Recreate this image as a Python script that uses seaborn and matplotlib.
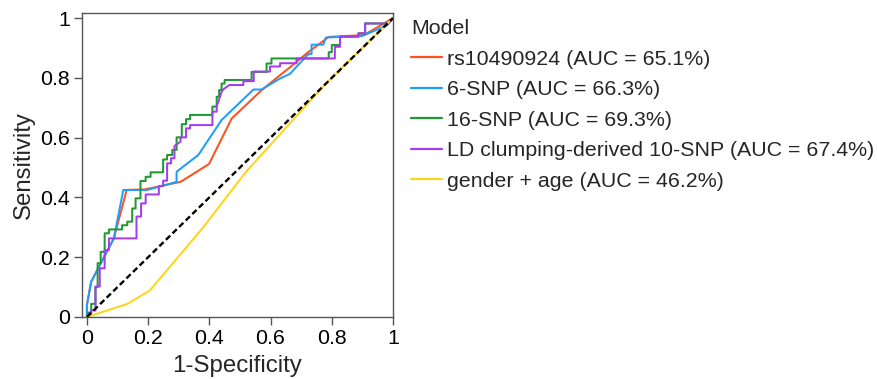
import numpy as np
import pandas as pd
import matplotlib
matplotlib.use("Agg")
import matplotlib.pyplot as plt
import seaborn as sns

# ---------------- data ----------------
models = ["rs10490924", "6-SNP", "16-SNP", "LD clumping-derived 10-SNP", "gender + age"]
auc = [65.1, 66.3, 69.3, 67.4, 46.2]
colors = ["#FF5020", "#1E9EFA", "#1F9A2E", "#A33DEE", "#FFD51A"]

fpr_rs = [0, 0, 0.014, 0.088, 0.13, 0.19, 0.306, 0.399, 0.473, 0.571, 0.631, 0.663, 0.718, 0.79, 0.905, 1]
tpr_rs = [0, 0.04, 0.118, 0.263, 0.425, 0.427, 0.452, 0.512, 0.664, 0.759, 0.809, 0.835, 0.882, 0.937, 0.943, 1]

fpr_6 = [0, 0, 0.014, 0.088, 0.119, 0.197, 0.293, 0.293, 0.364, 0.44, 0.544, 0.571, 0.631, 0.663, 0.718,
         0.725, 0.734, 0.734, 0.772, 0.781, 0.898, 0.98, 1]
tpr_6 = [0, 0.04, 0.118, 0.263, 0.425, 0.425, 0.452, 0.486, 0.542, 0.659, 0.761, 0.761, 0.798, 0.813, 0.874,
         0.88, 0.88, 0.911, 0.911, 0.935, 0.94, 0.975, 1]

fpr_16 = [0, 0.005, 0.005, 0.014, 0.014, 0.028, 0.028, 0.035, 0.035, 0.045, 0.045, 0.058, 0.058, 0.072, 0.072,
          0.115, 0.115, 0.132, 0.132, 0.148, 0.148, 0.159, 0.159, 0.175, 0.175, 0.192, 0.192, 0.208, 0.208,
          0.249, 0.249, 0.262, 0.262, 0.279, 0.279, 0.293, 0.293, 0.31, 0.31, 0.324, 0.324, 0.337, 0.337,
          0.41, 0.41, 0.424, 0.424, 0.432, 0.432, 0.44, 0.44, 0.45, 0.45, 0.538, 0.538, 0.587, 0.587,
          0.603, 0.603, 0.79, 0.79, 0.8, 0.8, 0.827, 0.827, 0.887, 0.887, 0.909, 0.909, 0.985, 1]
tpr_16 = [0, 0, 0.015, 0.015, 0.044, 0.044, 0.10, 0.10, 0.18, 0.18, 0.218, 0.218, 0.28, 0.28, 0.293,
          0.293, 0.307, 0.307, 0.319, 0.319, 0.363, 0.363, 0.397, 0.397, 0.455, 0.455, 0.469, 0.469, 0.484,
          0.484, 0.527, 0.527, 0.542, 0.542, 0.559, 0.559, 0.601, 0.601, 0.645, 0.645, 0.662, 0.662, 0.676,
          0.676, 0.704, 0.704, 0.737, 0.737, 0.759, 0.759, 0.781, 0.781, 0.793, 0.793, 0.82, 0.82, 0.848,
          0.848, 0.865, 0.865, 0.886, 0.886, 0.91, 0.91, 0.938, 0.938, 0.949, 0.949, 0.982, 0.982, 1]

fpr_10 = [0, 0.005, 0.005, 0.014, 0.014, 0.028, 0.028, 0.042, 0.042, 0.058, 0.058, 0.072, 0.072, 0.162, 0.162,
          0.177, 0.177, 0.192, 0.192, 0.235, 0.235, 0.249, 0.249, 0.262, 0.262, 0.275, 0.275, 0.286, 0.286,
          0.306, 0.306, 0.324, 0.324, 0.337, 0.337, 0.41, 0.41, 0.424, 0.424, 0.44, 0.445, 0.465, 0.511,
          0.511, 0.545, 0.545, 0.598, 0.598, 0.631, 0.631, 0.685, 0.685, 0.81, 0.81, 0.827, 0.827, 0.887,
          0.887, 0.909, 0.909, 0.985, 1]
tpr_10 = [0, 0, 0.011, 0.011, 0.022, 0.022, 0.102, 0.102, 0.163, 0.163, 0.224, 0.224, 0.263, 0.263, 0.336,
          0.336, 0.38, 0.38, 0.41, 0.41, 0.438, 0.438, 0.456, 0.456, 0.514, 0.514, 0.531, 0.531, 0.572,
          0.587, 0.601, 0.601, 0.631, 0.631, 0.642, 0.642, 0.687, 0.687, 0.704, 0.753, 0.761, 0.776, 0.776,
          0.789, 0.789, 0.821, 0.821, 0.838, 0.838, 0.849, 0.849, 0.865, 0.865, 0.904, 0.904, 0.938, 0.938,
          0.949, 0.949, 0.982, 0.982, 1]

fpr_ga = [0, 0.13, 0.205, 0.38, 0.52, 0.78, 1]
tpr_ga = [0, 0.043, 0.088, 0.30, 0.486, 0.78, 1]

chance_x = [0, 1]
chance_y = [0, 1]

tick_vals = [0, 0.2, 0.4, 0.6, 0.8, 1]
tick_labels = ["0", "0.2", "0.4", "0.6", "0.8", "1"]

# ---------------- build table ----------------
labels = [f"{m} (AUC = {a}%)" for m, a in zip(models, auc)]
fprs = [fpr_rs, fpr_6, fpr_16, fpr_10, fpr_ga]
tprs = [tpr_rs, tpr_6, tpr_16, tpr_10, tpr_ga]
frames = []
for lab, fx, ty in zip(labels, fprs, tprs):
    frames.append(pd.DataFrame({"fpr": fx, "tpr": ty, "model": lab, "order": np.arange(len(fx))}))
df = pd.concat(frames, ignore_index=True)

# ---------------- plot ----------------
sns.set_theme(style="ticks")
plt.rcParams["font.family"] = ["Liberation Sans", "DejaVu Sans"]

W, H = 877, 379
fig = plt.figure(figsize=(W / 100, H / 100), dpi=100)
ax = fig.add_axes([82 / W, 62 / H, 311 / W, 304 / H])

sns.lineplot(data=df, x="fpr", y="tpr", hue="model", hue_order=labels,
             palette=colors, sort=False, estimator=None, linewidth=1.45, ax=ax)
sns.lineplot(x=chance_x, y=chance_y, color="black", linewidth=1.7, ax=ax,
             dashes=False, legend=False).lines[-1].set_dashes((2.5, 1.4))

ax.set_xlim(-0.016, 1.0)
ax.set_ylim(0, 1.017)
ax.set_xticks(tick_vals)
ax.set_xticklabels(tick_labels)
ax.set_yticks(tick_vals)
ax.set_yticklabels(tick_labels)
ax.tick_params(axis="both", direction="out", length=5.5, width=1, colors="#555555",
               labelcolor="black", labelsize=15.4, pad=3)
for s in ax.spines.values():
    s.set_color("#555555")
    s.set_linewidth(1)
ax.set_xlabel("1-Specificity", fontsize=17.3, labelpad=5)
ax.set_ylabel("Sensitivity", fontsize=17.3, labelpad=4)

handles, labs = ax.get_legend_handles_labels()
leg = ax.legend(handles[:5], labs[:5], title="Model", loc="upper left",
                bbox_to_anchor=(411 / W, 1 - 19 / H), bbox_transform=fig.transFigure,
                frameon=False, fontsize=15.4, title_fontsize=15.4, handlelength=1.45,
                handletextpad=0.25, labelspacing=0.54, alignment="left",
                borderaxespad=0, borderpad=0)
for h in leg.get_lines():
    h.set_linewidth(1.6)

fig.savefig("out.png", dpi=100)
